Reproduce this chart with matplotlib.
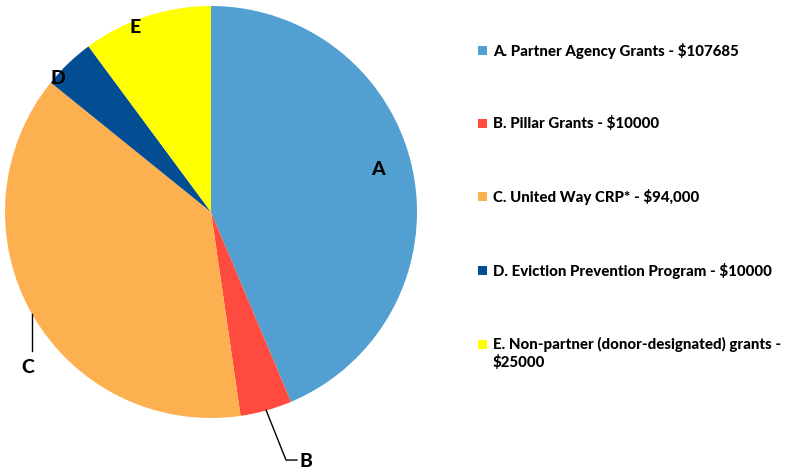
import numpy as np
import matplotlib
matplotlib.use("Agg")
import matplotlib.pyplot as plt
from matplotlib.patches import Rectangle

plt.rcParams['font.family'] = ['Lato', 'DejaVu Sans']

letters = ["A", "B", "C", "D", "E"]
values = [107685, 10000, 94000, 10000, 25000]
legend_labels = [
    "A. Partner Agency Grants - $107685",
    "B. Pillar Grants - $10000",
    "C. United Way CRP* - $94,000",
    "D. Eviction Prevention Program - $10000",
    "E. Non-partner (donor-designated) grants -\n$25000",
]
colors = ["#529FD2", "#FF4B3F", "#FDB04F", "#034E92", "#FFFF00"]

W, H = 788, 471
fig = plt.figure(figsize=(W / 100, H / 100), dpi=100)
cx, cy, r = 211, 212, 206
ax = fig.add_axes([(cx - r) / W, (H - cy - r) / H, 2 * r / W, 2 * r / H])
wedges, _ = ax.pie(values, colors=colors, startangle=90, counterclock=False,
                   radius=1, wedgeprops=dict(linewidth=0))
ax.set_xlim(-1, 1)
ax.set_ylim(-1, 1)
ax.set_aspect('equal')
ax.axis('off')

def mid(w):
    a = np.deg2rad((w.theta1 + w.theta2) / 2)
    return np.cos(a), np.sin(a)

fs_lab = 14
wt = 'black'
label_pos = {
    "A": (0.81, 0.204),
    "D": (-0.743, 0.650),
    "E": (-0.369, 0.898),
}
for i, L in enumerate(letters):
    if L in label_pos:
        ax.text(*label_pos[L], L, ha='center', va='center', fontsize=fs_lab,
                fontweight=wt, color='black')

# B leader
bx, by = mid(wedges[1])
ax.plot([bx, 0.364, 0.417], [by, -1.204, -1.204], color='black', lw=1,
        clip_on=False)
ax.text(0.43, -1.209, "B", ha='left', va='center', fontsize=fs_lab,
        fontweight=wt, clip_on=False)
# C leader
ccx, ccy = mid(wedges[2])
ax.plot([ccx, ccx], [ccy, -0.675], color='black', lw=1, clip_on=False)
ax.text(-0.888, -0.757, "C", ha='center', va='center', fontsize=fs_lab,
        fontweight=wt, clip_on=False)

# Legend
row_y = [50, 123, 196, 270, 344]
for lab, col, y in zip(legend_labels, colors, row_y):
    fig.patches.append(Rectangle((478 / W, (H - y - 4.5) / H), 9 / W, 9 / H,
                                 transform=fig.transFigure, facecolor=col,
                                 edgecolor='none'))
    fig.text(493 / W, (H - y + 7) / H, lab, ha='left', va='top',
             fontsize=10.8, fontweight=wt, linespacing=1.25)

fig.savefig("out.png", dpi=100)
